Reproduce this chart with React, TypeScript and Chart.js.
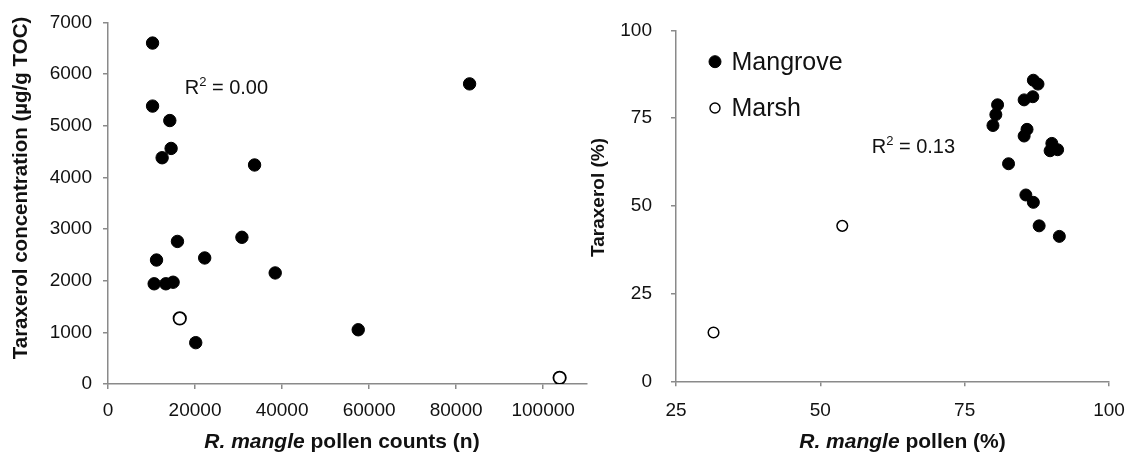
import { useEffect, useRef } from 'react';
import { Chart, registerables } from 'chart.js';

Chart.register(...registerables);

// ---------- data ----------
const seriesNames = ['Mangrove', 'Marsh'];

// Left panel: R. mangle pollen counts (n) vs taraxerol concentration (µg/g TOC)
const leftMangroveCounts = [10240, 10240, 14200, 14500, 12440, 33680, 15960, 30770, 11150, 22220, 38420, 10610, 13290, 14960, 20160, 57500, 83090];
const leftMangroveConc = [6600, 5380, 5100, 4560, 4380, 4240, 2760, 2840, 2400, 2440, 2150, 1940, 1940, 1970, 800, 1050, 5810];
const leftMarshCounts = [16490, 103780];
const leftMarshConc = [1270, 120];
const leftXTicks = [0, 20000, 40000, 60000, 80000, 100000];
const leftYTicks = [0, 1000, 2000, 3000, 4000, 5000, 6000, 7000];
const leftR2 = '0.00';

// Right panel: R. mangle pollen (%) vs taraxerol (%)
const rightMangrovePollen = [86.9, 87.7, 85.3, 86.8, 80.7, 80.4, 79.9, 85.8, 85.3, 90.1, 89.8, 91.1, 82.6, 85.6, 86.9, 87.9, 91.4];
const rightMangroveTaraxerol = [85.8, 84.7, 80.2, 81.1, 78.8, 76.0, 72.9, 71.8, 69.9, 67.8, 65.7, 66.0, 62.0, 53.1, 51.0, 44.3, 41.3];
const rightMarshPollen = [53.8, 31.5];
const rightMarshTaraxerol = [44.3, 13.9];
const rightXTicks = [25, 50, 75, 100];
const rightYTicks = [0, 25, 50, 75, 100];
const rightR2 = '0.13';

// ---------- styling ----------
const W = 1143;
const H = 454;
const FONT = "'Liberation Sans', Arial, Helvetica, sans-serif";
const AXIS = '#8a8a8a';
const INK = '#111';

const toPoints = (xs: number[], ys: number[]) => xs.map((x, i) => ({ x, y: ys[i] }));

function axis(min: number, max: number, ticks: number[], fit: (s: any) => void, pad: number) {
  return {
    type: 'linear',
    min,
    max,
    afterBuildTicks: (s: any) => {
      s.ticks = ticks.map((v) => ({ value: v }));
    },
    afterFit: fit,
    grid: { drawOnChartArea: false, drawTicks: true, tickLength: 5, color: AXIS, lineWidth: 1.5 },
    border: { display: true, color: AXIS, width: 1.5 },
    ticks: {
      color: INK,
      font: { family: FONT, size: 19 },
      padding: pad,
      autoSkip: false,
      maxRotation: 0,
      minRotation: 0,
      callback: (v: any) => String(v),
    },
  };
}

type TextSpec = {
  yTitle: { text: string; x: number; y: number; size: number };
  xTitle: { italic: string; rest: string; x: number; y: number; size: number };
  r2: { value: string; dx: number; dy: number };
  legend?: { x: number; y: number[]; size: number };
};

function makeTextPlugin(spec: TextSpec) {
  return {
    id: 'panelText',
    afterDraw(chart: any) {
      const ctx = chart.ctx as CanvasRenderingContext2D;
      ctx.save();
      ctx.fillStyle = INK;

      // y title
      const yt = spec.yTitle;
      ctx.save();
      ctx.translate(yt.x, yt.y);
      ctx.rotate(-Math.PI / 2);
      ctx.font = `bold ${yt.size}px ${FONT}`;
      ctx.textAlign = 'center';
      ctx.textBaseline = 'middle';
      ctx.fillText(yt.text, 0, 0);
      ctx.restore();

      // x title: italic species name + bold rest
      const xt = spec.xTitle;
      const fItal = `italic bold ${xt.size}px ${FONT}`;
      const fBold = `bold ${xt.size}px ${FONT}`;
      ctx.textBaseline = 'alphabetic';
      ctx.textAlign = 'left';
      ctx.font = fItal;
      const w1 = ctx.measureText(xt.italic).width;
      ctx.font = fBold;
      const w2 = ctx.measureText(xt.rest).width;
      const sx = xt.x - (w1 + w2) / 2;
      ctx.font = fItal;
      ctx.fillText(xt.italic, sx, xt.y);
      ctx.font = fBold;
      ctx.fillText(xt.rest, sx + w1, xt.y);

      // R² annotation (placed in data coordinates)
      const px = chart.scales.x.getPixelForValue(spec.r2.dx);
      const py = chart.scales.y.getPixelForValue(spec.r2.dy);
      ctx.font = `20px ${FONT}`;
      ctx.fillText('R', px, py);
      const wr = ctx.measureText('R').width;
      ctx.font = `13px ${FONT}`;
      ctx.fillText('2', px + wr, py - 8);
      const w2s = ctx.measureText('2').width;
      ctx.font = `20px ${FONT}`;
      ctx.fillText(` = ${spec.r2.value}`, px + wr + w2s, py);

      // legend
      if (spec.legend) {
        const lg = spec.legend;
        chart.data.datasets.forEach((ds: any, i: number) => {
          const cy = lg.y[i];
          ctx.beginPath();
          const r = i === 0 ? 6 : 5;
          ctx.arc(lg.x, cy, r, 0, Math.PI * 2);
          ctx.fillStyle = ds.pointBackgroundColor;
          ctx.fill();
          ctx.lineWidth = i === 0 ? 1 : 1.4;
          ctx.strokeStyle = ds.pointBorderColor;
          ctx.stroke();
          ctx.fillStyle = INK;
          ctx.font = `${lg.size}px ${FONT}`;
          ctx.textAlign = 'left';
          ctx.textBaseline = 'middle';
          ctx.fillText(ds.label, lg.x + 16.5, cy + 1);
        });
      }
      ctx.restore();
    },
  };
}

function dataset(label: string, data: any[], filled: boolean, radius: number, border: number) {
  return {
    label,
    data,
    showLine: false,
    pointRadius: radius,
    pointHoverRadius: radius,
    pointBorderWidth: border,
    pointBackgroundColor: filled ? '#000' : '#fff',
    pointBorderColor: '#000',
    backgroundColor: filled ? '#000' : '#fff',
    borderColor: '#000',
  };
}

function leftConfig(): any {
  return {
    type: 'scatter',
    data: {
      datasets: [
        dataset(seriesNames[0], toPoints(leftMangroveCounts, leftMangroveConc), true, 6.2, 1),
        dataset(seriesNames[1], toPoints(leftMarshCounts, leftMarshConc), false, 6.2, 1.8),
      ],
    },
    options: {
      responsive: false,
      animation: false,
      devicePixelRatio: 1,
      events: [],
      layout: { padding: { left: 0, top: 21, right: W - 586.7, bottom: 0 } },
      plugins: { legend: { display: false }, tooltip: { enabled: false } },
      scales: {
        x: { ...axis(0, 110000, leftXTicks, (s: any) => { s.height = H - 384; }, 10), position: 'bottom' },
        y: { ...axis(0, 7000, leftYTicks, (s: any) => { s.width = 108; }, 11), position: 'left' },
      },
    },
    plugins: [
      makeTextPlugin({
        yTitle: { text: 'Taraxerol concentration (µg/g TOC)', x: 21, y: 188, size: 20.5 },
        xTitle: { italic: 'R. mangle', rest: ' pollen counts (n)', x: 342, y: 448, size: 21 },
        r2: { value: leftR2, dx: 17630, dy: 5617 },
      }),
    ],
  };
}

function rightConfig(): any {
  return {
    type: 'scatter',
    data: {
      datasets: [
        dataset(seriesNames[0], toPoints(rightMangrovePollen, rightMangroveTaraxerol), true, 6, 1),
        dataset(seriesNames[1], toPoints(rightMarshPollen, rightMarshTaraxerol), false, 5.3, 1.5),
      ],
    },
    options: {
      responsive: false,
      animation: false,
      devicePixelRatio: 1,
      events: [],
      layout: { padding: { left: 576, top: 24.3, right: W - 1109, bottom: 0 } },
      plugins: { legend: { display: false }, tooltip: { enabled: false } },
      scales: {
        x: { ...axis(25, 100, rightXTicks, (s: any) => { s.height = H - 381.3; }, 13), position: 'bottom' },
        y: { ...axis(0, 100, rightYTicks, (s: any) => { s.width = 100; }, 19), position: 'left' },
      },
    },
    plugins: [
      makeTextPlugin({
        yTitle: { text: 'Taraxerol (%)', x: 599, y: 197.5, size: 19 },
        xTitle: { italic: 'R. mangle', rest: ' pollen (%)', x: 902.5, y: 448, size: 21 },
        r2: { value: rightR2, dx: 58.9, dy: 65.0 },
        legend: { x: 715, y: [61.7, 108], size: 25 },
      }),
    ],
  };
}

function Panel({ build }: { build: () => any }) {
  const ref = useRef<HTMLCanvasElement | null>(null);
  useEffect(() => {
    if (!ref.current) return;
    const chart = new Chart(ref.current, build());
    return () => chart.destroy();
  }, [build]);
  return (
    <canvas
      ref={ref}
      width={W}
      height={H}
      style={{ position: 'absolute', left: 0, top: 0, width: W, height: H }}
    />
  );
}

export default function App() {
  return (
    <div style={{ position: 'fixed', left: 0, top: 0, width: W, height: H, background: '#fff' }}>
      <Panel build={leftConfig} />
      <Panel build={rightConfig} />
    </div>
  );
}
